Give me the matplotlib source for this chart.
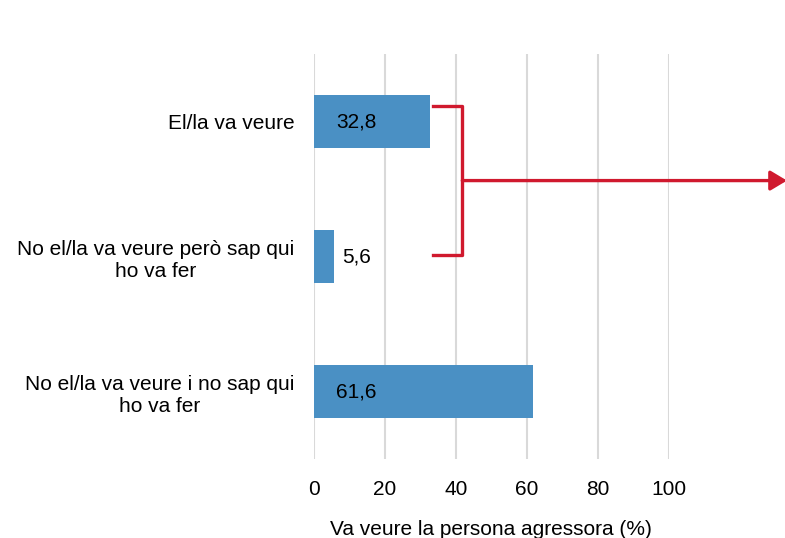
import matplotlib
matplotlib.use("Agg")
import matplotlib.pyplot as plt
from matplotlib.patches import FancyArrowPatch

plt.rcParams['font.family'] = ['Liberation Sans', 'DejaVu Sans']

categories = ["El/la va veure",
              "No el/la va veure però sap qui\nho va fer",
              "No el/la va veure i no sap qui\nho va fer"]
values = [32.8, 5.6, 61.6]
value_labels = ["32,8", "5,6", "61,6"]
xticks = [0, 20, 40, 60, 80, 100]
xlabel = "Va veure la persona agressora (%)"

BAR_COLOR = "#4A90C4"
RED = "#D0192E"
FS = 15

fig = plt.figure(figsize=(7.85, 5.38), dpi=100)
ax = fig.add_axes([0.4, 0.1468, 0.452, 0.7528])

y = list(range(len(categories)))
ax.barh(y, values, height=0.39, color=BAR_COLOR, zorder=3)
ax.set_ylim(2.5, -0.5)
ax.set_xlim(0, 100)
ax.set_xticks(xticks)
ax.set_xticklabels([str(t) for t in xticks], fontsize=FS)
ax.set_yticks(y)
ax.set_yticklabels(categories, fontsize=FS, multialignment='center', linespacing=1.22)
ax.tick_params(axis='both', length=0)
ax.tick_params(axis='y', pad=14)
ax.tick_params(axis='x', pad=15)
for s in ax.spines.values():
    s.set_visible(False)
ax.xaxis.grid(True, color="#D9D9D9", linewidth=1.5, zorder=0)
ax.set_axisbelow(True)
ax.set_xlabel(xlabel, fontsize=FS, labelpad=15)

for yi, lab in zip(y, value_labels):
    ax.text(12, yi, lab, ha='center', va='center', fontsize=FS, color='black', zorder=4)

# bracket grouping first two categories
bx0 = values[0] + 0.8
bx1 = bx0 + 8.2
top = y[0] - 0.115
bot = y[1] - 0.01
mid = (top + bot) / 2
ax.plot([bx0, bx1, bx1, bx0], [top, top, bot, bot], color=RED, lw=2.4,
        solid_joinstyle='round', clip_on=False, zorder=5)
arr = FancyArrowPatch((bx1, mid), (133.3, mid), transform=ax.transData,
                      arrowstyle='-|>,head_length=10,head_width=6',
                      color=RED, lw=2.4, clip_on=False, zorder=5,
                      shrinkA=0, shrinkB=0)
ax.add_patch(arr)

fig.savefig("out.png", dpi=100)
